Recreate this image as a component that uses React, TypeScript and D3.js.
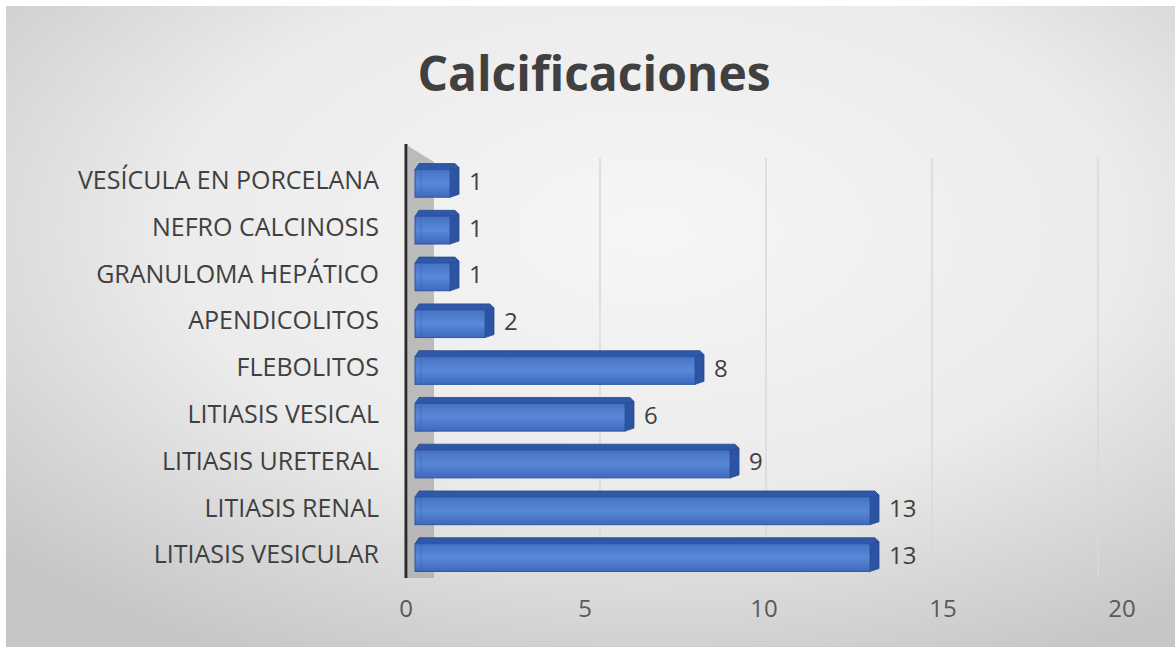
import React from "react";
import * as d3 from "d3";

const categories = [
  "VESÍCULA EN PORCELANA",
  "NEFRO CALCINOSIS",
  "GRANULOMA HEPÁTICO",
  "APENDICOLITOS",
  "FLEBOLITOS",
  "LITIASIS VESICAL",
  "LITIASIS URETERAL",
  "LITIASIS RENAL",
  "LITIASIS VESICULAR",
];
const values = [1, 1, 1, 2, 8, 6, 9, 13, 13];
const ticks = [0, 5, 10, 15, 20];
const title = "Calcificaciones";

const W = 1175;
const H = 647;
const FONT = "'Open Sans', 'Noto Sans', sans-serif";
const TXT = "#404040";

export default function App() {
  const y = d3.scaleBand<string>().domain(categories).range([157, 578]).paddingInner(0.28).paddingOuter(0.14);
  const xBar = d3.scaleLinear().domain([0, 20]).range([415, 1115]);
  const xTick = d3.scaleLinear().domain([0, 20]).range([406, 1122]);
  const xGrid = d3.scaleLinear().domain([0, 20]).range([434, 1098]);
  const dx = 9;
  const dy = 6;

  return (
    <svg width={W} height={H} style={{ position: "absolute", left: 0, top: 0, display: "block" }}>
      <defs>
        <radialGradient id="bg" cx="0.55" cy="0.35" r="0.75">
          <stop offset="0" stopColor="#f6f6f6" />
          <stop offset="0.55" stopColor="#ebebeb" />
          <stop offset="1" stopColor="#c6c6c6" />
        </radialGradient>
        <linearGradient id="front" x1="0" y1="0" x2="0" y2="1">
          <stop offset="0" stopColor="#4672c4" />
          <stop offset="0.5" stopColor="#5a88d8" />
          <stop offset="1" stopColor="#3f68bb" />
        </linearGradient>
      </defs>
      <rect x={0} y={0} width={W} height={H} fill="#ffffff" />
      <rect x={6} y={6} width={W - 6} height={H - 6} fill="url(#bg)" />
      <text x={594} y={91} textAnchor="middle" fontFamily={FONT} fontWeight="bold" fontSize={48} fill={TXT}>
        {title}
      </text>
      {ticks.slice(1).map((t) => (
        <line key={"g" + t} x1={xGrid(t)} x2={xGrid(t)} y1={158} y2={577} stroke="#d9d9d9" strokeWidth={1.5} />
      ))}
      <polygon points={`408,146 434,162 434,578 408,578`} fill="#a9a9a9" opacity={0.75} />
      <line x1={406} x2={406} y1={144} y2={578} stroke="#2b2b2b" strokeWidth={3} />
      {categories.map((c, i) => {
        const v = values[i];
        const y0 = y(c)!;
        const h = y.bandwidth();
        const x0 = xBar(0);
        const x1 = xBar(v);
        return (
          <g key={c}>
            <polygon
              points={`${x0},${y0 + dy} ${x0 + 4},${y0} ${x1 + dx - 4},${y0} ${x1 + dx},${y0 + 4} ${x1},${y0 + dy}`}
              fill="#2f58a8"
              stroke="#27498d"
              strokeWidth={0.8}
            />
            <polygon
              points={`${x1},${y0 + dy} ${x1 + dx},${y0 + 4} ${x1 + dx},${y0 + h - 3} ${x1},${y0 + h}`}
              fill="#2d54a2"
              stroke="#27498d"
              strokeWidth={0.8}
            />
            <rect x={x0} y={y0 + dy} width={x1 - x0} height={h - dy} fill="url(#front)" stroke="#2f56a3" strokeWidth={1} />
            <line x1={x0 + 6} x2={x0 + 6} y1={y0 + dy} y2={y0 + h} stroke="#3d66b8" strokeWidth={1} opacity={0.6} />
            <text
              x={x1 + dx + 10}
              y={y0 + h / 2 + 3}
              dominantBaseline="middle"
              fontFamily={FONT}
              fontSize={24}
              fill={TXT}
            >
              {v}
            </text>
            <text
              x={379}
              y={y0 + h / 2 + 2}
              textAnchor="end"
              dominantBaseline="middle"
              fontFamily={FONT}
              fontSize={25}
              fill={TXT}
            >
              {c}
            </text>
          </g>
        );
      })}
      {ticks.map((t) => (
        <text key={"t" + t} x={xTick(t)} y={611} textAnchor="middle" dominantBaseline="middle" fontFamily={FONT} fontSize={24} fill="#595959">
          {t}
        </text>
      ))}
    </svg>
  );
}
